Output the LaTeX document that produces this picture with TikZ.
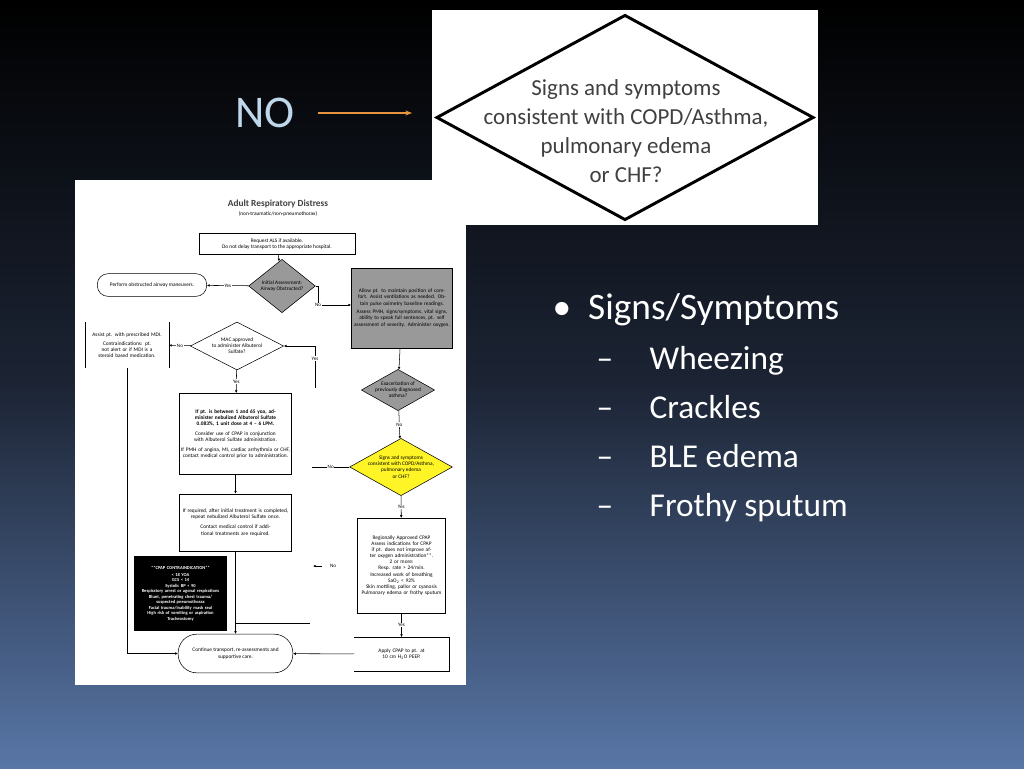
\documentclass[tikz,border=0pt]{standalone}
\usepackage{fontspec}
\setmainfont{Carlito}
\usetikzlibrary{shapes.geometric,arrows.meta}
\definecolor{arrowtan}{RGB}{230,150,60}
\definecolor{nocolor}{RGB}{190,215,235}
\definecolor{qgray}{RGB}{64,64,64}
\definecolor{bgblue}{RGB}{88,118,166}
\definecolor{bgmid}{RGB}{28,36,52}
\tikzset{
  tiny/.style={font=\fontsize{4}{4.6}\selectfont, align=center},
  box/.style={draw, thin, fill=white, tiny, inner sep=1pt},
  dia/.style={draw, thin, diamond, inner sep=0pt},
  flow/.style={thin, -{Latex[length=2pt,width=2pt]}},
  lbl/.style={font=\fontsize{3.8}{4.3}\selectfont, fill=white, inner sep=0.5pt},
  bullet/.style={text=white, font=\fontsize{25}{28}\selectfont, anchor=base west}
}
\begin{document}
\begin{tikzpicture}[x=0.75pt,y=-0.75pt]
  \useasboundingbox (0,0) rectangle (1024,768);
  \shade[top color=black, bottom color=bgblue, middle color=bgmid] (0,0) rectangle (1024,768);

  % question diamond
  \node[draw=none, fill=white, minimum width=289.5pt, minimum height=161pt, inner sep=0pt] (panel) at (625,117.5) {};
  \node[dia, line width=2.2pt, minimum width=283pt, minimum height=154pt] (question) at (625,117.5) {};
  \node[text=qgray, align=center, font=\fontsize{17.2}{21.7}\selectfont] (qtext) at (626,131) {Signs and symptoms\\consistent with COPD/Asthma,\\pulmonary edema\\or CHF?};
  \node[text=nocolor, font=\fontsize{34}{34}\selectfont] (no) at (265,113) {NO};
  \coordinate (nostart) at (318,113);
  \coordinate (noend) at (412,113);
  \draw[arrowtan, thick, -{Stealth[length=5pt]}] (nostart) -- (noend);

  % bullets
  \node[bullet, font=\fontsize{28}{32}\selectfont] (head) at (548,319) {\textbullet\ \ Signs/Symptoms};
  \foreach \t [count=\i] in {Wheezing, Crackles, BLE edema, Frothy sputum} {
    \node[bullet] (dash\i) at (592,320+49*\i) {\textendash};
    \node[bullet] (sym\i) at (645,320+49*\i) {\t};
  }

  % flowchart sheet
  \node[fill=white, minimum width=293pt, minimum height=379pt, inner sep=0pt] (sheet) at (270.5,432.5) {};
  \node[font=\fontsize{7}{7.5}\selectfont\bfseries, text=qgray] (title) at (278,204) {Adult Respiratory Distress};
  \node[tiny] (subtitle) at (278,214) {(non-traumatic/non-pneumothorax)};

  \node[box, minimum width=117pt, minimum height=16pt] (request) at (277,244) {Request ALS if available.\\Do not delay transport to the appropriate hospital.};
  \node[dia, fill=gray!80, minimum width=50pt, minimum height=40pt, label={[tiny]center:Initial Assessment:\\Airway Obstructed?}] (airway) at (282,286) {};
  \node[box, rounded corners=8pt, minimum width=82pt, minimum height=17pt] (obstruct) at (152,285) {Perform obstructed airway maneuvers.};
  \node[box, fill=gray!80, text width=74pt, minimum height=60pt] (comfort) at (402,308) {Allow pt. to maintain position of comfort. Assist ventilations as needed. Obtain pulse oximetry baseline readings.\\[2pt] Assess PMH, signs/symptoms, vital signs, ability to speak full sentences, pt. self assessment of severity. Administer oxygen.};
  \node[tiny, text width=56pt, minimum height=34pt] (mdi) at (127,345) {Assist pt. with prescribed MDI.\\[2pt]Contraindications: pt. not alert or if MDI is a steroid based medication.};
  \draw[thin] (mdi.north west) -- (mdi.south west) (mdi.north east) -- (mdi.south east);
  \node[dia, fill=white, minimum width=70pt, minimum height=36pt, label={[tiny]center:MAC approved\\to administer Albuterol\\Sulfate?}] (approval) at (237,346) {};
  \node[box, text width=82pt, minimum height=61pt] (albuterol) at (235.5,434) {\textbf{If pt. is between 1 and 65 yoa, administer nebulized Albuterol Sulfate 0.083\%, 1 unit dose at 4 -- 6 LPM.}\\[3pt] Consider use of CPAP in conjunction with Albuterol Sulfate administration.\\[3pt] If PMH of angina, MI, cardiac arrhythmia or CHF, contact medical control prior to administration.};
  \node[dia, fill=gray!80, minimum width=55pt, minimum height=31pt, label={[tiny]center:Exacerbation of\\previously diagnosed\\asthma?}] (asthma) at (398,390) {};
  \node[dia, fill=yellow!85!white, minimum width=77pt, minimum height=43pt, label={[tiny]center:Signs and symptoms\\consistent with COPD/Asthma,\\pulmonary edema\\or CHF?}] (signs) at (401,467) {};
  \node[box, text width=82pt, minimum height=43pt] (repeat) at (235.5,522.5) {If required, after initial treatment is completed, repeat nebulized Albuterol Sulfate once.\\[3pt] Contact medical control if additional treatments are required.};
  \node[fill=black, text=white, tiny, font=\fontsize{3.4}{4.1}\selectfont\bfseries, text width=68pt, minimum height=56pt, inner sep=1pt] (contra) at (180.5,593.5) {**CPAP CONTRAINDICATION**\\[1pt]< 18 YOA\\GCS < 14\\Systolic BP < 90\\Respiratory arrest or agonal respirations\\Blunt, penetrating chest trauma/ suspected pneumothorax\\Facial trauma/inability mask seal\\High risk of vomiting or aspiration\\Tracheostomy};
  \node[box, text width=64pt, minimum height=71pt] (cpap) at (401.5,565.5) {Regionally Approved CPAP\\Assess indications for CPAP if pt. does not improve after oxygen administration**.\\2 or more:\\Resp. rate > 24/min.\\Increased work of breathing\\SaO\textsubscript{2} < 92\%\\Skin mottling, pallor or cyanosis\\Pulmonary edema or frothy sputum};
  \node[box, rounded corners=14pt, minimum width=86pt, minimum height=29pt] (continue) at (235.5,653.5) {Continue transport, re-assessments and\\supportive care.};
  \node[tiny, text width=64pt, minimum height=25pt] (apply) at (401.5,654) {Apply CPAP to pt. at 10 cm H\textsubscript{2}O PEEP.};
  \draw[thin] (apply.north west) -- (apply.north east) -- (apply.south east) -- (apply.south west);

  % connectors
  \draw[flow] (request) -- (airway);
  \draw[flow] (airway) -- node[lbl] {Yes} (obstruct);
  \draw[flow] (airway.east) -- (318,286) |- node[lbl, pos=0.5] {No} (comfort.west |- 0,305);
  \draw[flow] (approval) -- node[lbl] {No} (mdi);
  \draw[flow] (mdi.south) |- (continue.west);
  \draw[flow] (approval) -- node[lbl] {Yes} (albuterol);
  \coordinate (yesfree) at (315,388);
  \draw[flow] (yesfree) |- node[lbl, pos=0.35] {Yes} (approval.east);
  \draw[flow] (comfort) -- (asthma);
  \draw[flow] (asthma) -- node[lbl] {No} (signs);
  \coordinate (nofree) at (312,467);
  \draw[thin] (signs.west) -- node[lbl] {No} (nofree);
  \draw[flow] (signs) -- node[lbl] {Yes} (cpap);
  \draw[flow] (albuterol) -- (repeat);
  \draw[flow] (repeat) -- (continue);
  \coordinate (joinfree) at (310,623);
  \draw[thin] (joinfree) -- (continue.north |- joinfree);
  \draw[flow] (cpap) -- node[lbl] {Yes} (apply);
  \draw[flow] (apply) -- (continue);
  \coordinate (smallto) at (313,566);
  \coordinate (smallfrom) at (322,566);
  \draw[flow] (smallfrom) -- (smallto);
  \node[lbl] (smallno) at (333,566) {No};
\end{tikzpicture}
\end{document}
